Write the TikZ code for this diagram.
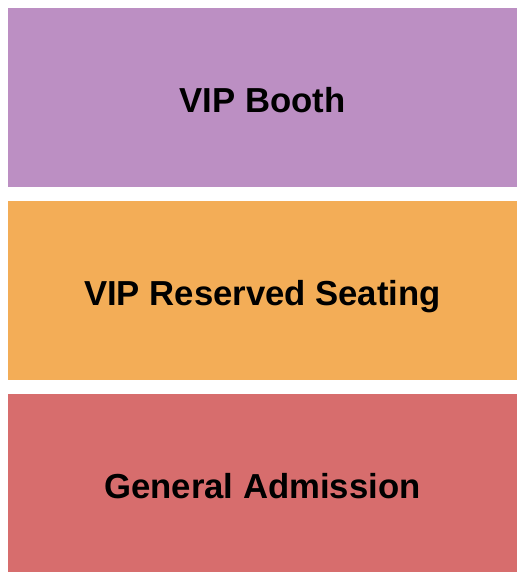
\documentclass[tikz,border=0pt]{standalone}
\usepackage{fontspec}
\setmainfont{Liberation Sans}
\definecolor{boothc}{HTML}{BC8FC3}
\definecolor{reservedc}{HTML}{F3AD57}
\definecolor{generalc}{HTML}{D76D6D}
\begin{document}
\begin{tikzpicture}[x=1pt,y=-1pt,
  zone/.style={inner sep=0pt, outer sep=0pt},
  zonelabel/.style={anchor=base, inner sep=0pt, font=\fontsize{34.7}{40}\selectfont\bfseries, text=black}]
\useasboundingbox[fill=white] (0,0) rectangle (525,580);
\fill[boothc] (8,8) rectangle (517,186.5);
\fill[reservedc] (8,201) rectangle (517,379.5);
\fill[generalc] (8,393.5) rectangle (517,572);
\node[zonelabel] (booth) at (262.5,113) {VIP Booth};
\node[zonelabel] (reserved) at (262.5,305.5) {VIP Reserved Seating};
\node[zonelabel] (general) at (262.5,498) {General Admission};
\end{tikzpicture}
\end{document}
